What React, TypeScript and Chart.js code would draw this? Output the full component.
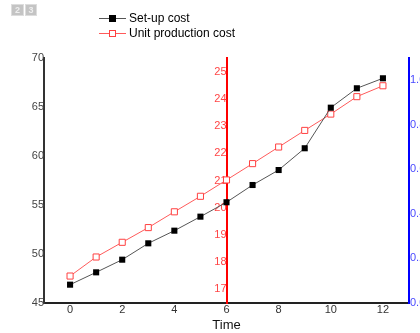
import React, { useEffect, useRef } from "react";
import { Chart, registerables } from "chart.js";

Chart.register(...registerables);

const times = [0, 1, 2, 3, 4, 5, 6, 7, 8, 9, 10, 11, 12];
const setupCost = [46.87, 48.13, 49.42, 51.09, 52.38, 53.81, 55.28, 57.04, 58.57, 60.79, 64.93, 66.91, 67.93];
const unitCost = [17.49, 18.19, 18.73, 19.27, 19.85, 20.42, 21.02, 21.62, 22.23, 22.84, 23.44, 24.08, 24.48];
const xTicks = [0, 2, 4, 6, 8, 10, 12];
const leftTicks = [45, 50, 55, 60, 65, 70];
const redTicks = [17, 18, 19, 20, 21, 22, 23, 24, 25];
const blueTicks = [0, 0.2, 0.4, 0.6, 0.8, 1.0];
const legendLabels = ["Set-up cost", "Unit production cost"];
const xTitle = "Time";

const FONT = '"Liberation Sans", Arial, sans-serif';

const decorPlugin = {
  id: "decor",
  afterDraw(chart: any) {
    const ctx = chart.ctx;
    ctx.save();
    // toolbar icon
    ctx.fillStyle = "#c4c4c4";
    ctx.fillRect(11, 4, 13, 12);
    ctx.fillRect(25, 4, 12, 12);
    ctx.strokeStyle = "#dddddd";
    ctx.lineWidth = 1;
    ctx.strokeRect(11.5, 4.5, 12, 11);
    ctx.strokeRect(25.5, 4.5, 11, 11);
    ctx.fillStyle = "#eeeeee";
    ctx.font = `bold 9px ${FONT}`;
    ctx.textAlign = "center";
    ctx.textBaseline = "middle";
    ctx.fillText("2", 17.5, 10.5);
    ctx.fillText("3", 31, 10.5);
    // legend
    const rows = [
      { y: 18, line: "#555555", stroke: "#000000", fill: "#000000", text: legendLabels[0] },
      { y: 33, line: "#ff5a5a", stroke: "#ff4040", fill: "#ffffff", text: legendLabels[1] },
    ];
    rows.forEach((r) => {
      ctx.strokeStyle = r.line;
      ctx.lineWidth = 1;
      ctx.beginPath();
      ctx.moveTo(99, r.y + 0.5);
      ctx.lineTo(126, r.y + 0.5);
      ctx.stroke();
      ctx.fillStyle = r.fill;
      ctx.fillRect(109.5, r.y - 2.5, 6, 6);
      ctx.strokeStyle = r.stroke;
      ctx.strokeRect(109.5, r.y - 2.5, 6, 6);
      ctx.fillStyle = "#000000";
      ctx.font = `12px ${FONT}`;
      ctx.textAlign = "left";
      ctx.textBaseline = "middle";
      ctx.fillText(r.text, 129, r.y + 1);
    });
    ctx.restore();
  },
};

export default function App() {
  const ref = useRef<HTMLCanvasElement>(null);
  useEffect(() => {
    document.body.style.margin = "0";
    const chart = new Chart(ref.current!, {
      type: "line",
      data: {
        datasets: [
          {
            label: legendLabels[0],
            data: times.map((t, i) => ({ x: t, y: setupCost[i] })),
            yAxisID: "y",
            borderColor: "#555555",
            borderWidth: 1,
            pointStyle: "rect",
            pointRadius: 4.3,
            pointBackgroundColor: "#000000",
            pointBorderColor: "#000000",
            pointBorderWidth: 0,
            tension: 0,
          },
          {
            label: legendLabels[1],
            data: times.map((t, i) => ({ x: t, y: unitCost[i] })),
            yAxisID: "yRed",
            borderColor: "#ff5a5a",
            borderWidth: 1,
            pointStyle: "rect",
            pointRadius: 4.3,
            pointBackgroundColor: "#ffffff",
            pointBorderColor: "#ff4040",
            pointBorderWidth: 1,
            tension: 0,
          },
        ],
      },
      options: {
        responsive: false,
        animation: false,
        devicePixelRatio: 1,
        layout: { padding: { top: 58, left: 0, right: 0, bottom: 0 } },
        plugins: { legend: { display: false }, tooltip: { enabled: false } },
        scales: {
          x: {
            type: "linear",
            position: "bottom",
            min: -1,
            max: 13,
            afterBuildTicks: (s: any) => { s.ticks = xTicks.map((v) => ({ value: v })); },
            afterFit: (s: any) => { s.height = 30; },
            grid: { display: false, drawTicks: false },
            border: { display: true, color: "#222222", width: 2 },
            ticks: { color: "#333333", font: { family: FONT, size: 11 }, padding: 0, maxRotation: 0, autoSkip: false },
            title: { display: true, text: xTitle, color: "#111111", font: { family: FONT, size: 13 }, padding: { top: 0, bottom: 0 } },
          },
          y: {
            type: "linear",
            position: "left",
            min: 45,
            max: 70,
            afterBuildTicks: (s: any) => { s.ticks = leftTicks.map((v) => ({ value: v })); },
            afterFit: (s: any) => { s.width = 44; },
            grid: { display: false, drawTicks: false },
            border: { display: true, color: "#333333", width: 2 },
            ticks: { color: "#444444", font: { family: FONT, size: 11 }, padding: 0 },
          },
          yRed: {
            type: "linear",
            position: { x: 6 } as any,
            min: 16.5,
            max: 25.5,
            afterBuildTicks: (s: any) => { s.ticks = redTicks.map((v) => ({ value: v })); },
            grid: { display: false, drawTicks: false },
            border: { display: true, color: "#ff0000", width: 2 },
            ticks: { color: "#ff4545", font: { family: FONT, size: 11 }, padding: 0 },
          },
          yBlue: {
            type: "linear",
            position: "right",
            min: 0,
            max: 1.1,
            afterBuildTicks: (s: any) => { s.ticks = blueTicks.map((v) => ({ value: v })); },
            afterFit: (s: any) => { s.width = 11; },
            grid: { display: false, drawTicks: false },
            border: { display: true, color: "#0000ff", width: 2 },
            ticks: { color: "#4a4aff", font: { family: FONT, size: 11 }, padding: 1, callback: (v: any) => Number(v).toFixed(1) },
          },
        },
      },
      plugins: [decorPlugin],
    } as any);
    return () => chart.destroy();
  }, []);
  return (
    <div style={{ position: "absolute", left: 0, top: 0, width: 420, height: 333 }}>
      <canvas ref={ref} width={420} height={333} style={{ width: 420, height: 333 }} />
    </div>
  );
}
